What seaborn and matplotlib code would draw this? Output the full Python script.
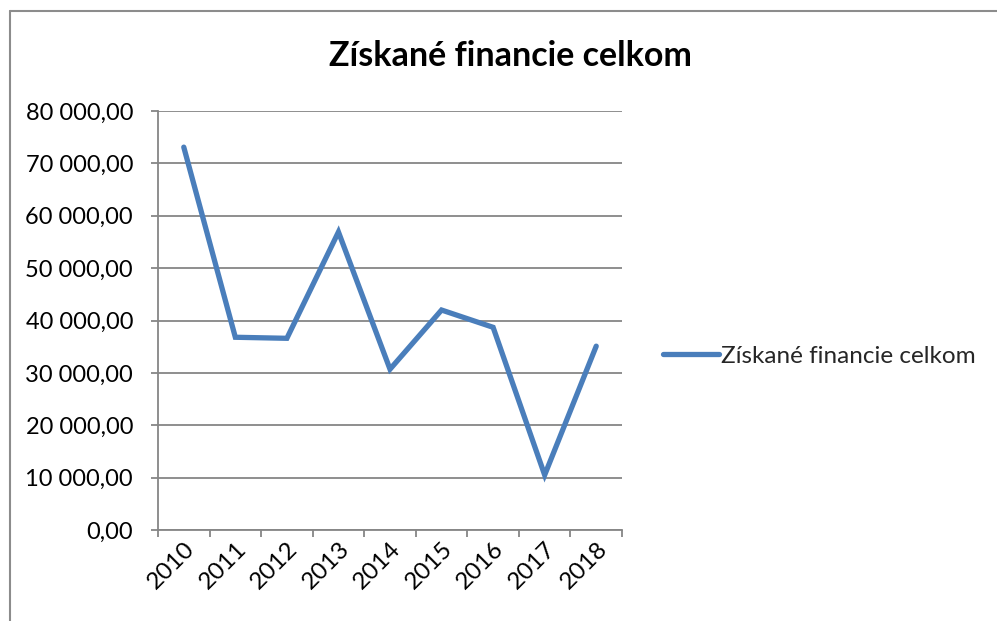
import matplotlib
matplotlib.use("Agg")
import matplotlib.pyplot as plt
import seaborn as sns
import pandas as pd
from matplotlib.ticker import FuncFormatter, FixedLocator
from matplotlib.lines import Line2D

years = ["2010", "2011", "2012", "2013", "2014", "2015", "2016", "2017", "2018"]
values = [73100, 36800, 36600, 56900, 30700, 42000, 38700, 10500, 35100]
series_name = "Získané financie celkom"
title = "Získané financie celkom"

sns.set_theme(style="white")
plt.rcParams["font.family"] = ["Lato", "DejaVu Sans"]

W, H = 997, 621
fig = plt.figure(figsize=(W / 100, H / 100), dpi=100)
ax = fig.add_axes([158 / W, (H - 530) / H, (622 - 158) / W, (530 - 111) / H])

line_c = "#4A7EBB"
df = pd.DataFrame({"year": years, "value": values})
sns.lineplot(data=df, x="year", y="value", ax=ax, color=line_c,
             linewidth=3.8, label=series_name, solid_capstyle="round",
             solid_joinstyle="miter", legend=False)

grid_c = "#868686"
ax.set_xlim(-0.5, len(years) - 0.5)
ax.set_ylim(0, 80000)
ax.set_yticks(range(0, 80001, 10000))
ax.yaxis.set_major_formatter(FuncFormatter(lambda v, p: f"{v:,.2f}".replace(",", " ").replace(".", ",")))
ax.grid(axis="y", color=grid_c, linewidth=1.3)
ax.set_axisbelow(True)

ax.set_xticks(range(len(years)))
ax.set_xticklabels(years, rotation=45, ha="right", rotation_mode="anchor")
ax.xaxis.set_minor_locator(FixedLocator([i - 0.5 for i in range(len(years) + 1)]))
ax.tick_params(axis="x", which="major", length=0, pad=6, labelsize=17.5, colors="black")
ax.tick_params(axis="x", which="minor", length=5, width=1.3, color=grid_c, direction="out", bottom=True)
ax.tick_params(axis="y", which="major", length=5, width=1.3, color=grid_c, direction="out", left=True,
               labelsize=17, labelcolor="black", pad=13)
for l in ax.get_xticklabels():
    l.set_color("black")

for s in ["top", "right"]:
    ax.spines[s].set_visible(False)
for s in ["left", "bottom"]:
    ax.spines[s].set_color(grid_c)
    ax.spines[s].set_linewidth(1.3)

ax.set_xlabel("")
ax.set_ylabel("")

fig.text(510 / W, 1 - 56 / H, title, ha="center", va="center", fontsize=24.5, fontweight="bold", color="black")

handle = Line2D([], [], color=line_c, linewidth=3.8, solid_capstyle="round")
fig.legend([handle], [series_name], loc="center left", bbox_to_anchor=(663 / W, 1 - 356 / H),
           frameon=False, fontsize=17.5, handlelength=2.3, handletextpad=0.1, borderaxespad=0, borderpad=0)

# chart area border (left and top visible)
fig.add_artist(Line2D([10 / W, 10 / W], [0, 1 - 11 / H], transform=fig.transFigure, color="#8c8c8c", linewidth=1.5))
fig.add_artist(Line2D([10 / W, 1], [1 - 11 / H, 1 - 11 / H], transform=fig.transFigure, color="#8c8c8c", linewidth=1.5))

fig.savefig("out.png", dpi=100)
